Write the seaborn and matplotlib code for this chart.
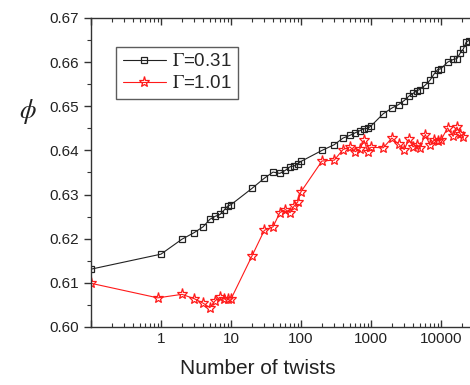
import matplotlib.pyplot as plt
import matplotlib.ticker as mticker
import numpy as np
import pandas as pd
import seaborn as sns

# data
twists_a = [0.1, 1, 2, 3, 4, 5, 6, 7, 8, 9, 10, 20, 30, 40, 50, 60, 70, 80, 90, 100,
            200, 300, 400, 500, 600, 700, 800, 900, 1000, 1500, 2000, 2500, 3000, 3500,
            4000, 4500, 5000, 6000, 7000, 8000, 9000, 10000, 12500, 15000, 17000,
            19000, 21000, 23000, 25000]
phi_a = [0.6131, 0.6165, 0.6199, 0.6214, 0.6227, 0.6244, 0.6251, 0.6255, 0.6265, 0.6274,
         0.6277, 0.6314, 0.6337, 0.6351, 0.6348, 0.6355, 0.6363, 0.6365, 0.6369, 0.6375,
         0.6400, 0.6413, 0.6428, 0.6434, 0.6440, 0.6445, 0.6449, 0.6450, 0.6455, 0.6483,
         0.6496, 0.6504, 0.6513, 0.6523, 0.6529, 0.6535, 0.6538, 0.6548, 0.6559, 0.6573,
         0.6583, 0.6585, 0.6600, 0.6606, 0.6608, 0.6621, 0.6630, 0.6645, 0.6649]

twists_b = [0.1, 0.9, 2, 3, 4, 5, 6, 7, 8, 9, 10, 20, 30, 40, 50, 60, 70, 80, 90, 100,
            200, 300, 400, 500, 600, 700, 800, 900, 1000, 1500, 2000, 2500, 3000, 3500,
            4000, 4500, 5000, 6000, 7000, 8000, 9000, 10000, 12500, 15000, 17000,
            19000, 21000]
phi_b = [0.6099, 0.6066, 0.6074, 0.6064, 0.6054, 0.6044, 0.6060, 0.6067, 0.6064, 0.6064,
         0.6063, 0.6161, 0.6219, 0.6227, 0.6259, 0.6266, 0.6259, 0.6274, 0.6283, 0.6306,
         0.6376, 0.6378, 0.6402, 0.6408, 0.6397, 0.6404, 0.6423, 0.6397, 0.6407, 0.6406,
         0.6428, 0.6414, 0.6402, 0.6425, 0.6408, 0.6413, 0.6406, 0.6436, 0.6412, 0.6423,
         0.6422, 0.6423, 0.6451, 0.6432, 0.6453, 0.6437, 0.6431]

label_a = r'$\Gamma$=0.31'
label_b = r'$\Gamma$=1.01'
xtick_vals = [0.1, 1, 10, 100, 1000, 10000]
xtick_labels = ['', '1', '10', '100', '1000', '10000']
ytick_vals = [0.60, 0.61, 0.62, 0.63, 0.64, 0.65, 0.66, 0.67]

df_a = pd.DataFrame({'twists': twists_a, 'phi': phi_a})
df_b = pd.DataFrame({'twists': twists_b, 'phi': phi_b})

sns.set_style('ticks')
plt.rcParams['font.family'] = ['Liberation Sans', 'DejaVu Sans']
plt.rcParams['mathtext.fontset'] = 'stix'

fig = plt.figure(figsize=(4.7, 3.85), dpi=100)
ax = fig.add_axes([91 / 470, 58 / 385, 380 / 470, 309 / 385])

sns.lineplot(data=df_a, x='twists', y='phi', ax=ax, color='#222222', lw=0.8,
             marker='s', ms=5, mfc='none', mec='#222222', mew=0.9, label=label_a)
sns.lineplot(data=df_b, x='twists', y='phi', ax=ax, color='#ff1a1a', lw=0.8,
             marker='*', ms=8, mfc='none', mec='#ff1a1a', mew=0.9, label=label_b)

ax.set_xscale('log')
ax.set_xlim(0.1, 27000)
ax.set_ylim(0.60, 0.67)
ax.set_xticks(xtick_vals)
ax.set_xticklabels(xtick_labels)
ax.xaxis.set_minor_locator(mticker.LogLocator(base=10, subs=np.arange(2, 10)))
ax.xaxis.set_minor_formatter(mticker.NullFormatter())
ax.set_yticks(ytick_vals)
ax.yaxis.set_major_formatter(mticker.FormatStrFormatter('%.2f'))
ax.yaxis.set_minor_locator(mticker.MultipleLocator(0.005))

ax.tick_params(axis='x', which='both', direction='in', top=True, bottom=True,
               labelsize=11, colors='#333333', labelcolor='#222222')
ax.tick_params(axis='x', which='major', length=5, width=1)
ax.tick_params(axis='x', which='minor', length=3, width=0.8)
ax.tick_params(axis='y', which='both', direction='out', left=True, right=False,
               labelsize=11, colors='#333333', labelcolor='#222222')
ax.tick_params(axis='y', which='major', length=5, width=1)
ax.tick_params(axis='y', which='minor', length=3, width=0.8)
for s in ax.spines.values():
    s.set_visible(True)
    s.set_color('#333333')
    s.set_linewidth(1)

ax.set_xlabel('Number of twists', fontsize=15, color='#222222')
ax.xaxis.set_label_coords(0.44, -0.105)
ax.set_ylabel(r'$\phi$', fontsize=19, rotation=0, color='#222222')
ax.yaxis.set_label_coords(-0.165, 0.65)

leg = ax.legend(loc='upper left', bbox_to_anchor=(0.066, 0.907), fontsize=13.5,
                frameon=True, fancybox=False, edgecolor='#333333', handlelength=2.3,
                borderpad=0.35, labelspacing=0.25, handletextpad=0.35, borderaxespad=0)
leg.get_frame().set_linewidth(1)

fig.savefig('out.png', dpi=100)
